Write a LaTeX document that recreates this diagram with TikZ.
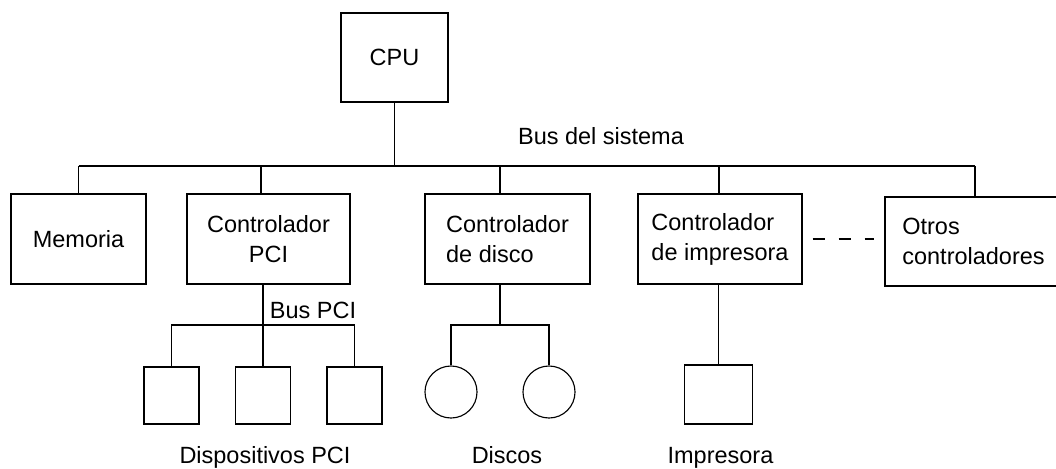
\documentclass[tikz,border=0pt]{standalone}
\usepackage{fontspec}
\setmainfont{Liberation Sans}

\tikzset{
    unit/.style={draw, inner sep=0pt, minimum height=2.25cm},
    device/.style={draw, inner sep=0pt, minimum width=1.375cm, minimum height=1.425cm},
    disc/.style={draw, circle, inner sep=0pt, minimum size=1.3cm},
    gapline/.style={dash pattern=on 0.3cm off 0.35cm, shorten <=0.25cm, shorten >=0.25cm}
}

\begin{document}
\begin{tikzpicture}[x=0.025cm, y=-0.025cm, thick, font=\fontsize{16.7}{21.3}\selectfont]

        \useasboundingbox (0,0) rectangle (1056,468);

        % Draw the CPU and the units on the system bus
        \node[unit, minimum width=2.675cm, minimum height=2.225cm] (cpu) at (394.5,57.5) {CPU};
        \node[unit, minimum width=3.375cm] (mem) at (78.5,239) {Memoria};
        \node[unit, minimum width=4.075cm, align=center] (pci) at (268.5,239) {Controlador\\PCI};
        \node[unit, minimum width=4.125cm, align=left] (disk) at (507.5,239) {Controlador\\de disco};
        \node[unit, minimum width=4.1cm, align=left] (imp) at (720,239) {Controlador\\de impresora};
        \node[unit, minimum width=4.425cm, minimum height=2.225cm, align=left] (otros) at (973.5,241.5) {Otros\\controladores};

        % Draw the system bus
        \coordinate (bus) at (394.5,166);
        \draw (cpu.south) -- (bus);
        \foreach \n/\dx in {mem/0, pci/-7.5, disk/-7.5, imp/-1, otros/1.5} {
            \coordinate (t-\n) at ([xshift=\dx*0.025cm]\n.north);
            \draw (t-\n) -- (t-\n |- bus);
        }
        \draw (t-mem |- bus) -- (t-otros |- bus);
        \node[anchor=base] (sysbus) at (601,144) {Bus del sistema};

        % Draw the dashes between the last two controllers
        \draw[gapline] (imp.east) -- (imp.east -| otros.west);

        % Draw the PCI devices
        \foreach \i/\x in {1/171.5, 2/263, 3/354.5} {
            \node[device] (dev\i) at (\x,395.5) {};
        }
        \coordinate (pcibus) at (263,325);
        \draw (dev2.north) -- (dev2.north |- pci.south);
        \draw (dev1.north) |- (pcibus) -| (dev3.north);
        \node[anchor=base] (pcilbl) at (313,318) {Bus PCI};
        \node[anchor=base] (devlbl) at (265,463) {Dispositivos PCI};

        % Draw the discs
        \foreach \i/\x in {1/451, 2/549} {
            \node[disc] (d\i) at (\x,392) {};
        }
        \coordinate (dbus) at (500,325);
        \draw (dbus) -- (dbus |- disk.south);
        \draw (d1.north) |- (dbus) -| (d2.north);
        \node[anchor=base] (disclbl) at (507,463) {Discos};

        % Draw the printer
        \node[device, minimum width=1.7cm, minimum height=1.475cm] (prn) at (718.5,394.5) {};
        \draw (prn.north) -- (prn.north |- imp.south);
        \node[anchor=base] (prnlbl) at (720.5,463) {Impresora};

\end{tikzpicture}
\end{document}
